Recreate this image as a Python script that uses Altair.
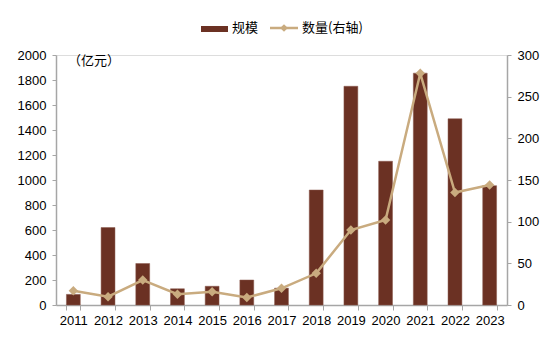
import altair as alt
import pandas as pd

years = [str(y) for y in range(2011, 2024)]
scale_vals = [85, 620, 332, 130, 150, 200, 135, 920, 1750, 1150, 1855, 1490, 955]
count_vals = [17, 10, 30, 13, 16, 9, 20, 38, 90, 102, 278, 135, 144]

df = pd.DataFrame({"year": years, "规模": scale_vals, "数量": count_vals})

BAR = "#6B3123"
LINE = "#C9AB7F"
AX = "#A6A6A6"
FONT = "Liberation Sans"
CJK = "Noto Sans CJK SC"

W, H = 451, 250

xenc = alt.X("year:N", sort=years, title=None,
             scale=alt.Scale(paddingInner=0.6, paddingOuter=0.3),
             axis=alt.Axis(labelAngle=0, tickBand="extent", domainColor=AX, tickColor=AX,
                           tickSize=5, labelFont=FONT, labelFontSize=13, labelColor="#000",
                           labelPadding=4, domainWidth=1.5))

bars = alt.Chart(df).mark_bar(color=BAR, stroke="#8a5a4e", strokeWidth=0.5).encode(
    x=xenc,
    y=alt.Y("规模:Q", title=None,
            scale=alt.Scale(domain=[0, 2000]),
            axis=alt.Axis(values=list(range(0, 2001, 200)), format="d", domainColor=AX, tickColor=AX,
                          tickSize=4, labelFont=FONT, labelFontSize=13, labelColor="#000",
                          labelPadding=6, grid=False, domainWidth=1.5)),
)

line = alt.Chart(df).mark_line(color=LINE, strokeWidth=2.5,
                               point=alt.OverlayMarkDef(shape="diamond", size=90, color=LINE, filled=True)).encode(
    x=alt.X("year:N", sort=years),
    y=alt.Y("数量:Q", title=None,
            scale=alt.Scale(domain=[0, 300]),
            axis=alt.Axis(orient="right", values=list(range(0, 301, 50)), format="d", domainColor=AX, tickColor=AX,
                          tickSize=4, labelFont=FONT, labelFontSize=13, labelColor="#000",
                          labelPadding=6, grid=False, domainWidth=1.5)),
)

unit = alt.Chart(pd.DataFrame({"t": ["（亿元）"]})).mark_text(
    font=CJK, fontSize=13, align="left", baseline="middle", color="#000"
).encode(x=alt.value(12), y=alt.value(6), text="t:N")

# legend
leg_bar = alt.Chart(pd.DataFrame({"a": [0]})).mark_rect(color=BAR).encode(
    x=alt.value(145), x2=alt.value(172), y=alt.value(-29), y2=alt.value(-23))
leg_line = alt.Chart(pd.DataFrame({"a": [0]})).mark_rule(color=LINE, strokeWidth=2.5).encode(
    x=alt.value(214), x2=alt.value(242), y=alt.value(-27))
leg_pt = alt.Chart(pd.DataFrame({"a": [0]})).mark_point(shape="diamond", size=60, color=LINE, filled=True, opacity=1).encode(
    x=alt.value(228), y=alt.value(-27))
leg_txt = alt.Chart(pd.DataFrame({"t": ["规模", "数量(右轴)"], "px": [176, 246]})).mark_text(
    font=CJK, fontSize=13, align="left", baseline="middle", color="#000"
).encode(x=alt.X("px:Q", scale=None), y=alt.value(-27), text="t:N")

chart = alt.layer(bars, line, unit, leg_bar, leg_line, leg_pt, leg_txt).resolve_scale(
    y="independent"
).properties(
    width=W, height=H,
    autosize=alt.AutoSizeParams(type="none"),
    padding={"left": 56, "top": 55, "right": 50, "bottom": 46},
).configure_view(stroke=None).configure(background="white")

chart.save("out.html", embed_options={"renderer": "svg", "actions": False})
